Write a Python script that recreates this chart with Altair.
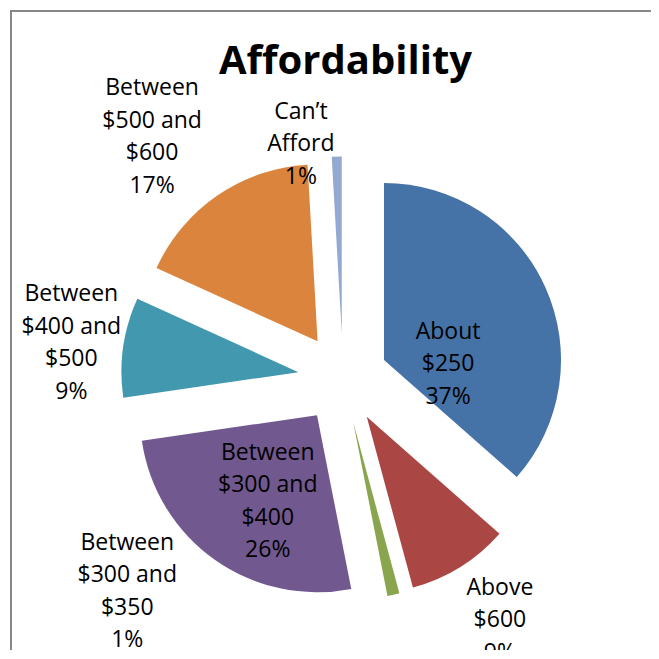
import math
import altair as alt
import pandas as pd

# ---- data (slice sizes) ----
categories = ["About $250", "Above $600", "Between $300 and $350", "Between $300 and $400",
              "Between $400 and $500", "Between $500 and $600", "Can’t Afford"]
label_lines = ["About\n$250", "Above\n$600", "Between\n$300 and\n$350", "Between\n$300 and\n$400",
               "Between\n$400 and\n$500", "Between\n$500 and\n$600", "Can’t\nAfford"]
shares = [36.5, 9.3, 1.1, 25.8, 9.1, 17.3, 0.9]
colors = ["#4572A7", "#AA4643", "#89A54E", "#71588F", "#4198AF", "#DB843D", "#93A9CF"]

# ---- label layout (distance from pie centre in px, angular nudge in % of circle) ----
label_radius = [106, 288, 303, 144, 274, 308, 238]
label_shift = [4.64, -0.32, 16.26, -1.05, -0.17, -1.09, -2.38]

# ---- geometry / style ----
W, H = 641, 640
R = 177                 # pie radius in px
CX, CY = 333, 368.5     # pie centre within the plot area
EXPLODE = 45 / R        # explosion distance in pie-radius units
LINE_H = 32.5           # label line height in px

df = pd.DataFrame({
    "order": list(range(len(categories))),
    "category": categories,
    "label": label_lines,
    "share": shares,
    "lab_r": label_radius,
    "lab_shift": label_shift,
})

theta_scale = alt.Scale(domain=[0, 100], range=[0, 2 * math.pi], zero=False, nice=False)
xs = alt.Scale(domain=[-CX / R, (W - CX) / R], nice=False, zero=False)
ys = alt.Scale(domain=[-(H - CY) / R, CY / R], nice=False, zero=False)

base = alt.Chart(df).transform_window(
    cum="sum(share)", sort=[alt.SortField("order")], frame=[None, 0]
).transform_calculate(
    start="datum.cum - datum.share",
    end="datum.cum",
    mid="datum.cum - datum.share / 2",
    text="datum.label + '\\n' + round(datum.share) + '%'",
).transform_calculate(
    ex=f"{EXPLODE} * sin(datum.mid / 100 * 2 * PI)",
    ey=f"{EXPLODE} * cos(datum.mid / 100 * 2 * PI)",
    nlines="split(datum.text, '\\n').length",
    lab_ang="(datum.mid + datum.lab_shift) / 100 * 2 * PI",
).transform_calculate(
    lab_x=f"datum.lab_r / {R} * sin(datum.lab_ang)",
    lab_y=f"datum.lab_r / {R} * cos(datum.lab_ang) + (datum.nlines - 1) * {LINE_H / 2} / {R}",
)

arcs = base.mark_arc(outerRadius=R, innerRadius=0).encode(
    theta=alt.Theta("start:Q", scale=theta_scale, stack=None),
    theta2="end:Q",
    x=alt.X("ex:Q", scale=xs, axis=None),
    y=alt.Y("ey:Q", scale=ys, axis=None),
    color=alt.Color("category:N", scale=alt.Scale(domain=categories, range=colors), legend=None),
)

labels = base.mark_text(
    font="Open Sans", fontSize=23, lineBreak="\n", lineHeight=LINE_H,
    align="center", baseline="middle", color="#000000",
).encode(
    x=alt.X("lab_x:Q", scale=xs, axis=None),
    y=alt.Y("lab_y:Q", scale=ys, axis=None),
    text="text:N",
)

frame_df = pd.DataFrame({"a": [0]})
top_border = alt.Chart(frame_df).mark_rule(color="#878787", strokeWidth=2).encode(
    x=alt.value(0), x2=alt.value(W), y=alt.value(1)
)
left_border = alt.Chart(frame_df).mark_rule(color="#878787", strokeWidth=2).encode(
    x=alt.value(1), y=alt.value(0), y2=alt.value(H)
)

chart = alt.layer(top_border, left_border, arcs, labels).properties(
    width=W,
    height=H,
    padding={"left": 2, "top": 2, "right": 0, "bottom": 0},
    autosize=alt.AutoSizeParams(type="none"),
    title=alt.Title(
        "Affordability", font="Open Sans", fontSize=40, fontWeight="bold", color="#000000",
        anchor="middle", frame="group", offset=0, dy=105, dx=15, baseline="alphabetic",
    ),
).configure_view(stroke=None).configure(background="white")

chart.save("out.html", embed_options={"renderer": "svg", "actions": False})
